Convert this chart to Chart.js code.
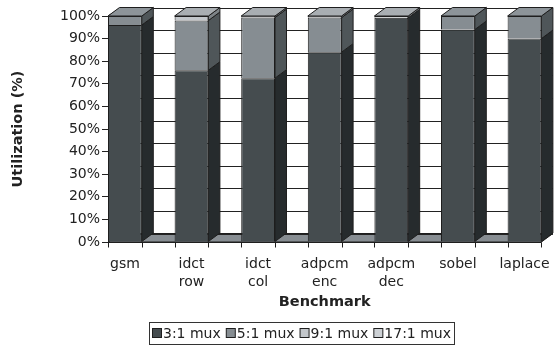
<!DOCTYPE html>
<html>
<head>
<meta charset="utf-8">
<script src="https://cdn.jsdelivr.net/npm/chart.js@4.4.1/dist/chart.umd.min.js"></script>
<style>
  html, body { margin: 0; padding: 0; background: #fff; overflow: hidden; }
  canvas { display: block; }
</style>
</head>
<body>
<canvas id="chart" width="555" height="351"></canvas>
<script>
// Benchmarks (multi-line axis labels)
const categories = [['gsm'], ['idct', 'row'], ['idct', 'col'], ['adpcm', 'enc'], ['adpcm', 'dec'], ['sobel'], ['laplace']];

// Utilization share (%) of each mux size per benchmark
const mux3 = [96, 76, 72.5, 84, 99.2, 94, 90];
const mux5 = [4, 22, 26.8, 15.3, 0, 6, 10];
const mux9 = [0, 2, 0.7, 0.7, 0.8, 0, 0];
const mux17 = [0, 0, 0, 0, 0, 0, 0];

const seriesLabels = ['3:1 mux', '5:1 mux', '9:1 mux', '17:1 mux'];

// Oblique depth of the 3D box and bars
const DX = 11.5, DY = -8.5;
const EDGE = '#1e1e1e';
const FONT = '"DejaVu Sans", Verdana, sans-serif';
const HALF = 17 / 67;          // half bar width in category units

function quad(ctx, pts, fill) {
  ctx.beginPath();
  ctx.moveTo(pts[0][0], pts[0][1]);
  for (let k = 1; k < pts.length; k++) ctx.lineTo(pts[k][0], pts[k][1]);
  ctx.closePath();
  if (fill) { ctx.fillStyle = fill; ctx.fill(); }
  ctx.strokeStyle = EDGE;
  ctx.lineWidth = 1;
  ctx.stroke();
}

const box3d = {
  id: 'box3d',
  beforeDraw(chart) {
    const ctx = chart.ctx;
    ctx.save();
    ctx.fillStyle = '#fff';
    ctx.fillRect(0, 0, chart.width, chart.height);
    ctx.restore();
  },
  beforeDatasetsDraw(chart) {
    const { ctx, chartArea: a, scales: { y } } = chart;
    ctx.save();
    // back wall
    ctx.fillStyle = '#fff';
    ctx.fillRect(a.left + DX, a.top + DY, a.right - a.left, a.bottom - a.top);
    // floor
    quad(ctx, [[a.left, a.bottom], [a.right, a.bottom], [a.right + DX, a.bottom + DY], [a.left + DX, a.bottom + DY]], '#878d92');
    // gridlines on the left and back walls
    ctx.strokeStyle = '#222';
    ctx.lineWidth = 1;
    y.ticks.forEach(t => {
      const fy = y.getPixelForValue(t.value);
      const by = Math.round(fy + DY) + 0.5;
      ctx.beginPath();
      ctx.moveTo(a.left, fy);
      ctx.lineTo(a.left + DX, by);
      ctx.lineTo(a.right + DX, by);
      ctx.stroke();
    });
    ctx.restore();
  },
  afterDatasetsDraw(chart) {
    const { ctx, chartArea: a, scales: { x } } = chart;
    ctx.save();
    const sets = chart.data.datasets;
    for (let i = 0; i < categories.length; i++) {
      let topSeg = null;
      sets.forEach((ds, d) => {
        const el = chart.getDatasetMeta(d).data[i];
        if (!el) return;
        const p = el.getProps(['x', 'y', 'base', 'width'], true);
        if (Math.abs(p.base - p.y) < 0.01) return;
        const xr = p.x + p.width / 2;
        quad(ctx, [[xr, p.y], [xr + DX, p.y + DY], [xr + DX, p.base + DY], [xr, p.base]], ds.sideColor);
        topSeg = { p, color: ds.topColor };
      });
      if (topSeg) {
        const { p, color } = topSeg;
        const xl = p.x - p.width / 2, xr = p.x + p.width / 2;
        quad(ctx, [[xl, p.y], [xr, p.y], [xr + DX, p.y + DY], [xl + DX, p.y + DY]], color);
      }
    }
    // front edge of the floor and tick marks at the bar edges
    const fy = Math.round(a.bottom) + 0.5;
    ctx.strokeStyle = EDGE;
    ctx.lineWidth = 1;
    ctx.beginPath();
    ctx.moveTo(a.left - 1, fy);
    ctx.lineTo(a.right, fy);
    for (let i = 0; i < categories.length; i++) {
      [i - HALF, i + HALF].forEach(v => {
        const px = Math.round(x.getPixelForValue(v)) + 0.5;
        ctx.moveTo(px, fy);
        ctx.lineTo(px, fy + 5);
      });
    }
    ctx.stroke();
    ctx.restore();
  },
  afterDraw(chart) {
    // legend in a framed box
    const ctx = chart.ctx;
    ctx.save();
    ctx.font = '14px ' + FONT;
    const SW = 9, GT = 2, GI = 5, PAD = 3;
    const items = chart.data.datasets.map(ds => ({ label: ds.label, color: ds.legendColor }));
    const widths = items.map(it => SW + GT + ctx.measureText(it.label).width);
    const total = widths.reduce((s, w) => s + w, 0) + GI * (items.length - 1) + PAD * 2;
    const cy = 333;
    const left = Math.round(302 - total / 2);
    ctx.strokeStyle = '#333';
    ctx.lineWidth = 1;
    ctx.strokeRect(left + 0.5, cy - 11 + 0.5, Math.round(total), 22);
    let cx = left + PAD;
    ctx.textBaseline = 'middle';
    items.forEach((it, k) => {
      ctx.fillStyle = it.color;
      ctx.fillRect(cx + 0.5, cy - 4.5, SW, SW);
      ctx.strokeStyle = EDGE;
      ctx.strokeRect(cx + 0.5, cy - 4.5, SW, SW);
      ctx.fillStyle = '#222';
      ctx.fillText(it.label, cx + SW + GT, cy + 1);
      cx += widths[k] + GI;
    });
    ctx.restore();
  }
};

const palette = [
  { front: '#454c4f', side: '#262b2d', top: '#5b6366' },
  { front: '#868d92', side: '#4f5659', top: '#8d9499' },
  { front: '#c2c6ca', side: '#7d8387', top: '#a9aeb2' },
  { front: '#cdd1d5', side: '#868c90', top: '#b4b9bd' }
];
const seriesValues = [mux3, mux5, mux9, mux17];

const datasets = seriesValues.map((vals, k) => ({
  label: seriesLabels[k],
  data: vals.map((v, i) => ({ x: i, y: v })),
  backgroundColor: palette[k].front,
  borderColor: EDGE,
  borderWidth: 1,
  sideColor: palette[k].side,
  topColor: palette[k].top,
  legendColor: palette[k].front,
  categoryPercentage: 1,
  barPercentage: 34 / 67
}));

new Chart(document.getElementById('chart'), {
  type: 'bar',
  data: { datasets },
  options: {
    responsive: false,
    animation: false,
    events: [],
    layout: { padding: { top: 16, right: 11, left: 0, bottom: 0 } },
    plugins: { legend: { display: false }, tooltip: { enabled: false } },
    scales: {
      x: {
        type: 'linear',
        offset: false,
        stacked: true,
        min: -HALF,
        max: categories.length - 1 + HALF,
        afterFit(s) { s.height = 109; },
        grid: { display: false, offset: false },
        border: { display: false },
        ticks: {
          stepSize: 1,
          includeBounds: false,
          autoSkip: false,
          maxRotation: 0,
          padding: 5,
          color: '#222',
          font: { family: FONT, size: 14, lineHeight: 1.3 },
          callback: v => categories[v] || ''
        },
        title: {
          display: true,
          text: 'Benchmark',
          color: '#222',
          font: { family: FONT, size: 14.5, weight: 'bold' },
          padding: { top: 0, bottom: 40 }
        }
      },
      y: {
        stacked: true,
        min: 0,
        max: 100,
        afterFit(s) { s.width = 108; },
        grid: { drawOnChartArea: false, drawTicks: true, tickLength: 6, color: '#222' },
        border: { display: true, color: '#222' },
        ticks: {
          stepSize: 10,
          padding: 2,
          color: '#222',
          font: { family: FONT, size: 14 },
          callback: v => v + '%'
        },
        title: {
          display: true,
          text: 'Utilization (%)',
          color: '#222',
          font: { family: FONT, size: 14.5, weight: 'bold' },
          padding: { top: 10, bottom: 0 }
        }
      }
    }
  },
  plugins: [box3d]
});
</script>
</body>
</html>
